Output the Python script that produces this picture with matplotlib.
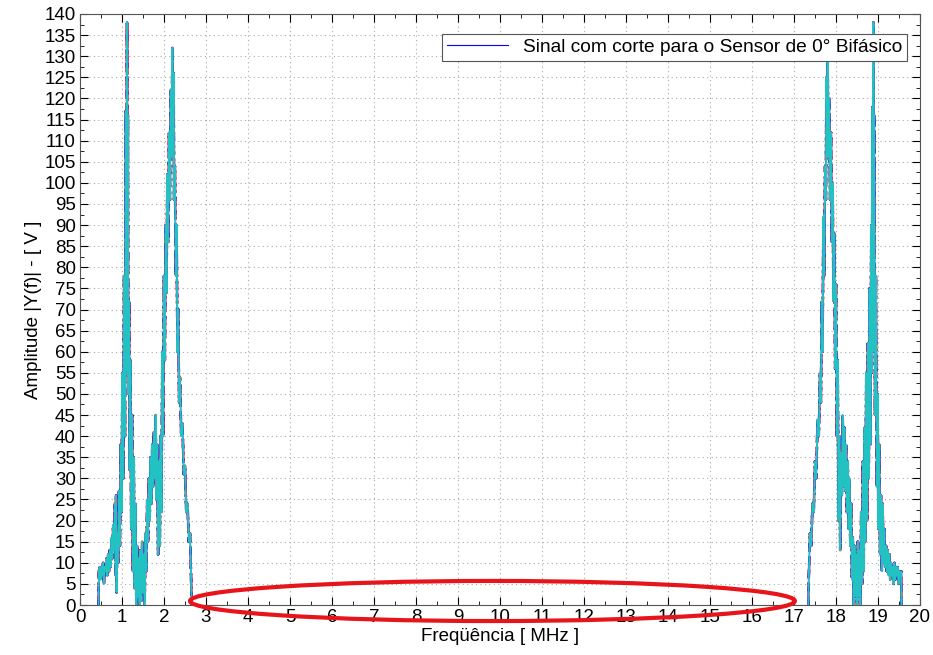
import matplotlib.pyplot as plt
import numpy as np
from matplotlib.patches import Ellipse
from matplotlib.ticker import MultipleLocator

plt.rcParams['font.family'] = ['Liberation Sans', 'DejaVu Sans']

# Espectro lado esquerdo (MHz, V)
f_esq = [0.44, 0.45, 0.47, 0.49, 0.51, 0.53, 0.55, 0.57, 0.59, 0.61, 0.63, 0.65,
         0.67, 0.69, 0.71, 0.73, 0.75, 0.77, 0.79, 0.81, 0.83, 0.85, 0.86, 0.87,
         0.89, 0.91, 0.93, 0.95, 0.97, 0.99, 1.01, 1.03, 1.05, 1.07, 1.09, 1.10,
         1.12, 1.13, 1.14, 1.15, 1.17, 1.18, 1.20, 1.22, 1.24, 1.26, 1.28, 1.30,
         1.32, 1.34, 1.36, 1.38, 1.40, 1.42, 1.44, 1.46, 1.48, 1.50, 1.52, 1.54,
         1.56, 1.58, 1.60, 1.62, 1.64, 1.66, 1.68, 1.70, 1.72, 1.74, 1.76, 1.78,
         1.80, 1.82, 1.84, 1.86, 1.88, 1.90, 1.92, 1.94, 1.96, 1.98, 2.00, 2.02,
         2.04, 2.06, 2.08, 2.10, 2.12, 2.14, 2.16, 2.18, 2.20, 2.21, 2.23, 2.24,
         2.26, 2.28, 2.30, 2.32, 2.34, 2.36, 2.38, 2.41, 2.44, 2.47, 2.50, 2.53,
         2.56, 2.59, 2.62, 2.64, 2.65, 2.66]
a_esq = [0, 8, 9, 6, 9, 7, 10, 5, 9, 8, 11, 7,
         12, 8, 13, 9, 16, 11, 19, 13, 24, 7, 26, 3,
         17, 10, 27, 14, 38, 22, 55, 30, 78, 40, 117, 55,
         138, 80, 116, 50, 72, 32, 58, 18, 45, 8, 35, 4,
         24, 0, 14, 2, 11, 0, 13, 1, 15, 3, 12, 0,
         17, 8, 25, 15, 30, 20, 35, 24, 38, 28, 41, 30,
         45, 25, 38, 12, 34, 14, 40, 22, 60, 40, 78, 58,
         90, 74, 102, 86, 112, 96, 122, 106, 132, 112, 126, 96,
         104, 78, 90, 60, 70, 48, 54, 40, 43, 31, 33, 22,
         24, 15, 17, 9, 6, 0]

# Espectro lado direito (imagem espelhada)
f_dir = [17.34, 17.35, 17.36, 17.38, 17.41, 17.44, 17.47, 17.50, 17.53, 17.56,
         17.59, 17.62, 17.64, 17.66, 17.68, 17.70, 17.72, 17.74, 17.76, 17.77,
         17.79, 17.80, 17.82, 17.84, 17.86, 17.88, 17.90, 17.92, 17.94, 17.96,
         17.98, 18.00, 18.02, 18.04, 18.06, 18.08, 18.10, 18.12, 18.14, 18.16,
         18.18, 18.20, 18.22, 18.24, 18.26, 18.28, 18.30, 18.32, 18.34, 18.36,
         18.38, 18.40, 18.42, 18.44, 18.46, 18.48, 18.50, 18.52, 18.54, 18.56,
         18.58, 18.60, 18.62, 18.64, 18.66, 18.68, 18.70, 18.72, 18.74, 18.76,
         18.78, 18.80, 18.82, 18.84, 18.85, 18.87, 18.88, 18.89, 18.90, 18.91,
         18.93, 18.95, 18.97, 18.99, 19.01, 19.03, 19.05, 19.07, 19.09, 19.11,
         19.13, 19.15, 19.17, 19.19, 19.21, 19.23, 19.25, 19.27, 19.29, 19.31,
         19.33, 19.35, 19.37, 19.39, 19.41, 19.43, 19.45, 19.47, 19.49, 19.51,
         19.53, 19.55, 19.56]
a_dir = [0, 6, 9, 17, 14, 24, 22, 34, 30, 44,
         40, 55, 48, 72, 60, 92, 78, 104, 96, 125,
         112, 131, 106, 120, 96, 112, 86, 100, 72, 88,
         56, 76, 40, 58, 20, 40, 13, 36, 26, 45,
         28, 42, 27, 38, 22, 34, 18, 30, 14, 24,
         6, 16, 0, 14, 2, 12, 0, 15, 2, 13,
         0, 22, 5, 34, 8, 42, 15, 55, 20, 62,
         30, 75, 38, 90, 55, 118, 60, 138, 85, 116,
         45, 78, 28, 50, 18, 38, 12, 26, 8, 24,
         10, 18, 9, 14, 8, 13, 7, 12, 6, 10,
         7, 9, 5, 10, 6, 9, 7, 9, 5, 8,
         7, 8, 0]

# trecho cortado entre as duas bandas fica vazio (NaN)
freq = np.array(f_esq + [np.nan] + f_dir)
amp = np.array(a_esq + [np.nan] + a_dir)

fig = plt.figure(figsize=(9.33, 6.55), dpi=100)
ax = fig.add_axes([80/933, 50/655, 840/933, 591/655])

# varias curvas sobrepostas (cores padrao do MATLAB), ciano por cima
ax.plot(freq, amp, color='b', lw=0.8, label='Sinal com corte para o Sensor de 0° Bifásico')
ax.plot(freq, amp, color='r', lw=1.8, ls='--')
ax.plot(freq, amp, color='#008000', lw=1.8, ls=':')
ax.plot(freq, amp, color='#bf00bf', lw=1.8, ls='-.')
ax.plot(freq, amp, color='b', lw=1.7, ls=(0, (2, 4)))
ax.plot(freq, amp, color='#22c2c2', lw=1.4)

ax.set_xlim(0, 20)
ax.set_ylim(0, 140)
ax.xaxis.set_major_locator(MultipleLocator(1))
ax.xaxis.set_minor_locator(MultipleLocator(0.5))
ax.yaxis.set_major_locator(MultipleLocator(5))
ax.yaxis.set_minor_locator(MultipleLocator(2.5))
ax.tick_params(which='both', direction='in', top=True, right=True, labelsize=13.5, pad=3)
ax.tick_params(which='major', length=6)
ax.tick_params(which='minor', length=3)
ax.grid(True, which='major', color='#aaaaaa', ls=(0, (1, 3)), lw=0.8)
for s in ax.spines.values():
    s.set_color('#555555')

ax.set_xlabel('Freqüência [ MHz ]', fontsize=13.5, labelpad=1)
ax.set_ylabel('Amplitude |Y(f)| - [ V ]', fontsize=13.5, labelpad=2)

leg = ax.legend(loc='upper right', fontsize=13.8, fancybox=False, framealpha=1,
                edgecolor='#555555', borderpad=0.25, handlelength=3.2,
                bbox_to_anchor=(0.9965, 0.983))
leg.get_frame().set_linewidth(0.8)

# destaque da regiao cortada
ax.add_patch(Ellipse((9.82, 0.95), 14.4, 9.5, fill=False, ec='#e8141c', lw=3,
                     clip_on=False, zorder=6))

fig.savefig('out.png', dpi=100)
